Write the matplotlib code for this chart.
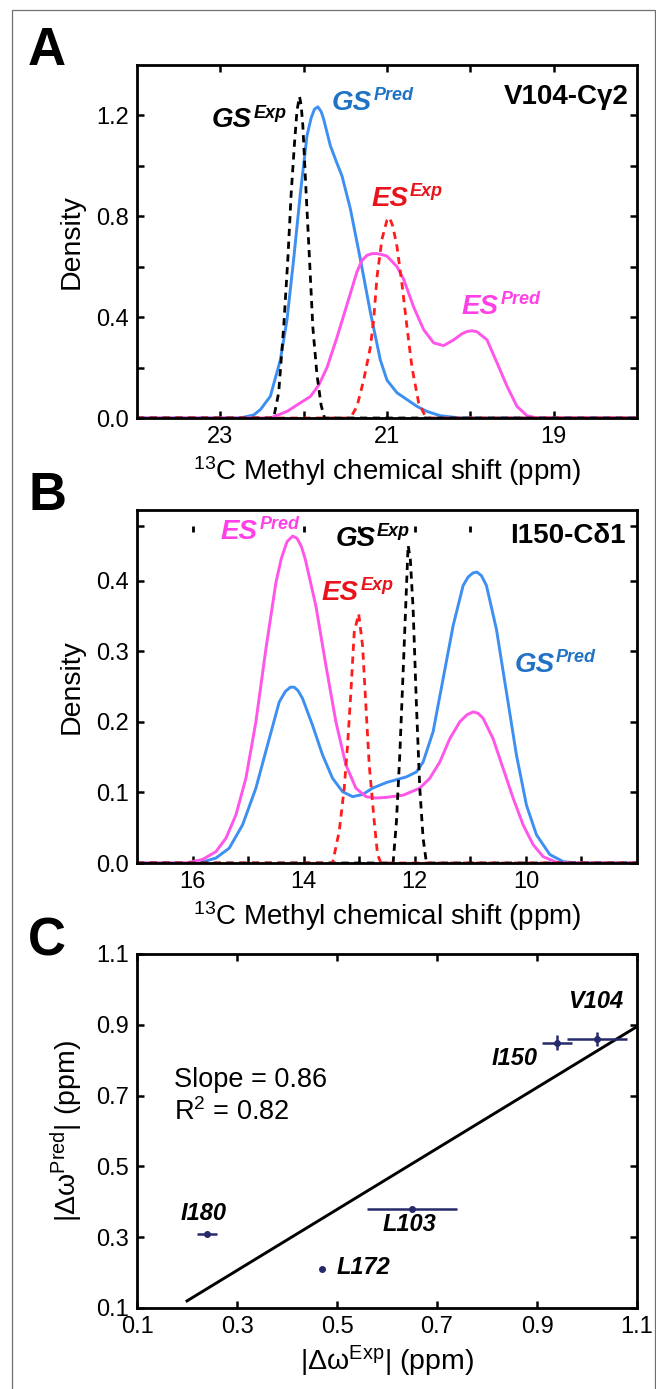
import matplotlib
matplotlib.use('Agg')
import matplotlib.pyplot as plt
from matplotlib.patches import Rectangle
from matplotlib.ticker import FormatStrFormatter

plt.rcParams['font.family'] = ['Liberation Sans', 'DejaVu Sans']
plt.rcParams['mathtext.fontset'] = 'custom'
plt.rcParams['mathtext.rm'] = 'Liberation Sans'
plt.rcParams['mathtext.it'] = 'Liberation Sans:italic'
plt.rcParams['mathtext.bf'] = 'Liberation Sans:bold'

# ---- panel A: V104-Cg2 densities (ppm, density) ----
a_gs_exp_x = [24.0, 22.36, 22.30, 22.24, 22.19, 22.15, 22.11, 22.08, 22.05, 22.03, 22.01,
              21.97, 21.93, 21.89, 21.84, 21.79, 21.75, 18.0]
a_gs_exp_y = [0.0, 0.0, 0.10, 0.36, 0.63, 0.89, 1.09, 1.22, 1.275, 1.24, 1.16,
              0.89, 0.63, 0.36, 0.17, 0.05, 0.0, 0.0]
a_gs_pred_x = [24.0, 22.76, 22.60, 22.52, 22.40, 22.28, 22.20, 22.12, 22.04, 21.96, 21.91,
               21.87, 21.83, 21.79, 21.76, 21.68, 21.60, 21.54, 21.44, 21.32, 21.20,
               21.08, 21.00, 20.88, 20.76, 20.64, 20.52, 20.36, 20.12, 18.0]
a_gs_pred_y = [0.0, 0.0, 0.012, 0.033, 0.086, 0.23, 0.39, 0.63, 0.89, 1.12, 1.19,
               1.225, 1.234, 1.215, 1.185, 1.08, 1.01, 0.96, 0.83, 0.63, 0.42,
               0.23, 0.15, 0.10, 0.073, 0.046, 0.026, 0.009, 0.0, 0.0]
a_es_exp_x = [24.0, 21.44, 21.36, 21.28, 21.20, 21.16, 21.12, 21.06, 21.00, 20.97, 20.93,
              20.88, 20.82, 20.76, 20.70, 20.62, 20.54, 20.48, 18.0]
a_es_exp_y = [0.0, 0.0, 0.046, 0.15, 0.28, 0.39, 0.56, 0.71, 0.785, 0.795, 0.76,
              0.68, 0.53, 0.36, 0.20, 0.06, 0.007, 0.0, 0.0]
a_es_pred_x = [24.0, 22.40, 22.20, 22.04, 21.92, 21.82, 21.72, 21.60, 21.48, 21.36, 21.30,
               21.24, 21.18, 21.12, 21.06, 21.00, 20.88, 20.80, 20.68, 20.56, 20.44,
               20.32, 20.20, 20.10, 20.04, 19.98, 19.92, 19.80, 19.68, 19.56, 19.44,
               19.32, 19.20, 18.0]
a_es_pred_y = [0.0, 0.0, 0.026, 0.06, 0.085, 0.13, 0.20, 0.32, 0.45, 0.58, 0.625,
               0.645, 0.652, 0.652, 0.648, 0.642, 0.60, 0.55, 0.44, 0.35, 0.298,
               0.287, 0.31, 0.334, 0.343, 0.346, 0.342, 0.31, 0.219, 0.126, 0.046,
               0.009, 0.0, 0.0]

# ---- panel B: I150-Cd1 densities ----
b_gs_exp_x = [17.0, 12.39, 12.33, 12.27, 12.21, 12.15, 12.12, 12.08, 12.03, 11.97, 11.91,
              11.85, 11.79, 8.0]
b_gs_exp_y = [0.0, 0.0, 0.059, 0.153, 0.27, 0.39, 0.45, 0.43, 0.36, 0.223, 0.106,
              0.035, 0.0, 0.0]
b_es_exp_x = [17.0, 13.48, 13.36, 13.27, 13.21, 13.15, 13.09, 13.01, 12.94, 12.88, 12.82,
              12.73, 12.67, 12.61, 8.0]
b_es_exp_y = [0.0, 0.0, 0.045, 0.106, 0.167, 0.242, 0.327, 0.353, 0.308, 0.223, 0.139,
              0.059, 0.012, 0.0, 0.0]
b_gs_pred_x = [17.0, 15.88, 15.58, 15.34, 15.10, 14.86, 14.62, 14.44, 14.33, 14.24, 14.17,
               14.10, 14.02, 13.84, 13.66, 13.48, 13.30, 13.12, 12.94, 12.76, 12.51,
               12.33, 12.15, 11.97, 11.85, 11.67, 11.49, 11.31, 11.13, 11.04, 10.95,
               10.88, 10.80, 10.71, 10.53, 10.35, 10.17, 9.99, 9.81, 9.57, 9.33,
               9.09, 8.0]
b_gs_pred_y = [0.0, 0.0, 0.007, 0.021, 0.054, 0.106, 0.176, 0.228, 0.243, 0.249, 0.249,
               0.244, 0.233, 0.195, 0.153, 0.12, 0.101, 0.094, 0.097, 0.106, 0.114,
               0.118, 0.122, 0.129, 0.143, 0.186, 0.261, 0.336, 0.393, 0.405, 0.411,
               0.412, 0.407, 0.393, 0.331, 0.242, 0.153, 0.082, 0.04, 0.012, 0.002,
               0.0, 0.0]
b_es_pred_x = [17.0, 16.12, 15.82, 15.58, 15.40, 15.22, 15.04, 14.86, 14.68, 14.50, 14.40,
               14.30, 14.20, 14.12, 14.04, 13.97, 13.78, 13.60, 13.42, 13.24, 13.06,
               12.88, 12.70, 12.51, 12.21, 11.91, 11.73, 11.55, 11.37, 11.19, 11.06,
               10.95, 10.86, 10.77, 10.59, 10.41, 10.23, 10.05, 9.87, 9.69, 9.45,
               9.20, 8.0]
b_es_pred_y = [0.0, 0.0, 0.005, 0.016, 0.035, 0.068, 0.12, 0.20, 0.303, 0.397, 0.432,
               0.455, 0.463, 0.460, 0.448, 0.43, 0.364, 0.28, 0.20, 0.139, 0.106,
               0.094, 0.092, 0.093, 0.096, 0.106, 0.12, 0.143, 0.176, 0.20, 0.210,
               0.214, 0.212, 0.205, 0.176, 0.134, 0.092, 0.054, 0.026, 0.009, 0.001,
               0.0, 0.0]
b_stray_ticks = [16, 14, 13, 12, 11, 10]   # leftover tick marks near the top of panel B

# ---- panel C: predicted vs experimental |dw| ----
c_res = ['I180', 'L172', 'L103', 'I150', 'V104']
c_exp = [0.24, 0.47, 0.65, 0.94, 1.02]
c_pred = [0.31, 0.21, 0.38, 0.85, 0.86]
c_exp_err = [0.02, 0.005, 0.09, 0.03, 0.06]
c_pred_err = [0.0, 0.0, 0.0, 0.02, 0.02]
c_label_xy = [(0.188, 0.366), (0.50, 0.214), (0.592, 0.336), (0.81, 0.804), (0.962, 0.966)]
fit_x = [0.2, 1.1]
fit_y = [0.12, 0.895]

BLACK = 'black'
RED = '#ff1c1c'
BLUE = '#3d8ff2'
MAGENTA = '#ff55e8'
BLUE_TXT = '#1f72c4'
RED_TXT = '#e8141c'
MAG_TXT = '#ff40e6'
NAVY = '#262a6b'

W, H = 656, 1389
fig = plt.figure(figsize=(W / 100, H / 100), dpi=100)


def px_axes(left, top, right, bottom):
    return fig.add_axes([left / W, 1 - bottom / H, (right - left) / W, (bottom - top) / H])


def style(ax):
    for s in ax.spines.values():
        s.set_linewidth(2.0)
    ax.tick_params(which='both', direction='in', top=True, right=True, length=5,
                   width=1.8, labelsize=17, pad=6)


def sup_label(ax, x, y, base, sup, color):
    t = ax.text(x, y, base, color=color, fontsize=20, fontweight='bold',
                fontstyle='italic', ha='left', va='center', zorder=5)
    ax.annotate(sup, xy=(1, 1), xycoords=t, xytext=(1, 2), textcoords='offset points',
                fontsize=13, fontweight='bold', fontstyle='italic', color=color,
                ha='left', va='top', zorder=5)


dash = (0, (2.6, 2.0))
xlab = '$^{13}$C Methyl chemical shift (ppm)'

# Panel A
axA = px_axes(137, 65, 637, 418)
axA.plot(a_gs_pred_x, a_gs_pred_y, color=BLUE, lw=2.1)
axA.plot(a_es_pred_x, a_es_pred_y, color=MAGENTA, lw=2.1)
axA.plot(a_gs_exp_x, a_gs_exp_y, color=BLACK, lw=2, ls=dash)
axA.plot(a_es_exp_x, a_es_exp_y, color=RED, lw=2, ls=dash)
axA.set_xlim(24, 18)
axA.set_ylim(0, 1.4)
axA.set_xticks([23, 21, 19])
axA.set_xticks([22, 20], minor=True)
axA.set_yticks([0, 0.4, 0.8, 1.2])
axA.set_yticks([0.2, 0.6, 1.0], minor=True)
axA.yaxis.set_major_formatter(FormatStrFormatter('%.1f'))
style(axA)
axA.set_ylabel('Density', fontsize=20.5, labelpad=8)
axA.set_xlabel(xlab, fontsize=20, labelpad=4)
axA.text(0.984, 0.909, 'V104-Cγ2', transform=axA.transAxes, ha='right', va='center',
         fontsize=20, fontweight='bold')
sup_label(axA, 23.1, 1.18, 'GS', 'Exp', BLACK)
sup_label(axA, 21.66, 1.25, 'GS', 'Pred', BLUE_TXT)
sup_label(axA, 21.19, 0.87, 'ES', 'Exp', RED_TXT)
sup_label(axA, 20.1, 0.44, 'ES', 'Pred', MAG_TXT)

# Panel B
axB = px_axes(137, 510, 637, 863)
axB.plot(b_gs_pred_x, b_gs_pred_y, color=BLUE, lw=2.1)
axB.plot(b_es_pred_x, b_es_pred_y, color=MAGENTA, lw=2.1)
axB.plot(b_gs_exp_x, b_gs_exp_y, color=BLACK, lw=2, ls=dash)
axB.plot(b_es_exp_x, b_es_exp_y, color=RED, lw=2, ls=dash)
axB.vlines(b_stray_ticks, 0.469, 0.477, color=BLACK, lw=2)
axB.set_xlim(17, 8)
axB.set_ylim(0, 0.5)
axB.set_xticks([16, 14, 12, 10])
axB.set_xticks([15, 13, 11, 9], minor=True)
axB.set_yticks([0, 0.1, 0.2, 0.3, 0.4])
axB.set_yticks([0.477], minor=True)
axB.yaxis.set_major_formatter(FormatStrFormatter('%.1f'))
style(axB)
axB.tick_params(which='both', top=False)
axB.set_ylabel('Density', fontsize=20.5, labelpad=8)
axB.set_xlabel(xlab, fontsize=20, labelpad=4)
axB.text(0.978, 0.925, 'I150-Cδ1', transform=axB.transAxes, ha='right', va='center',
         fontsize=20, fontweight='bold')
sup_label(axB, 15.49, 0.469, 'ES', 'Pred', MAG_TXT)
sup_label(axB, 13.43, 0.459, 'GS', 'Exp', BLACK)
sup_label(axB, 13.67, 0.383, 'ES', 'Exp', RED_TXT)
sup_label(axB, 10.21, 0.281, 'GS', 'Pred', BLUE_TXT)

# Panel C
axC = px_axes(137, 954, 637, 1308)
axC.plot(fit_x, fit_y, color=BLACK, lw=2.1)
axC.errorbar(c_exp, c_pred, xerr=c_exp_err, yerr=c_pred_err, fmt='o', ms=4,
             color=NAVY, elinewidth=1.8, capsize=0)
for name, (lx, ly) in zip(c_res, c_label_xy):
    axC.text(lx, ly, name, fontsize=17, fontweight='bold', fontstyle='italic',
             ha='left', va='center')
axC.text(0.174, 0.745, 'Slope = 0.86', fontsize=19.5, va='center')
axC.text(0.174, 0.654, 'R$^2$ = 0.82', fontsize=19.5, va='center')
ticks = [0.1, 0.3, 0.5, 0.7, 0.9, 1.1]
axC.set_xlim(0.1, 1.1)
axC.set_ylim(0.1, 1.1)
axC.set_xticks(ticks)
axC.set_yticks(ticks)
axC.xaxis.set_major_formatter(FormatStrFormatter('%.1f'))
axC.yaxis.set_major_formatter(FormatStrFormatter('%.1f'))
style(axC)
axC.set_ylabel('|Δω$^{\\mathrm{Pred}}$| (ppm)', fontsize=20.5, labelpad=8)
axC.set_xlabel('|Δω$^{\\mathrm{Exp}}$| (ppm)', fontsize=20.5, labelpad=4)

# panel letters and outer frame
for letter, bottom in [('A', 65), ('B', 510), ('C', 956)]:
    fig.text(28 / W, 1 - bottom / H, letter, fontsize=38, fontweight='bold',
             ha='left', va='baseline')
fig.patches.append(Rectangle((11.5 / W, -0.01), 643 / W, 1 - 10 / H + 0.01,
                             transform=fig.transFigure, fill=False,
                             edgecolor='#707070', lw=0.9))

fig.savefig('out.png', dpi=100)
